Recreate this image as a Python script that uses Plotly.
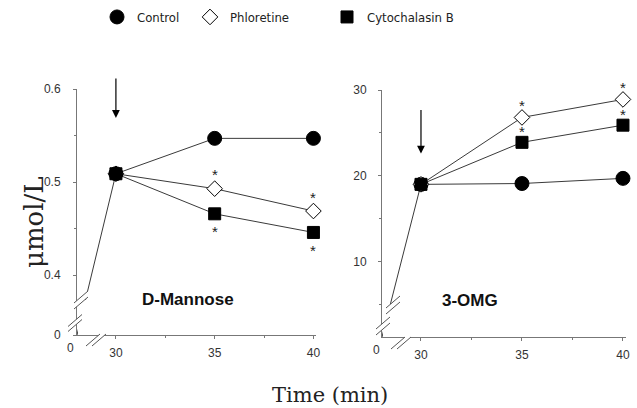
import plotly.graph_objects as go

# ---------------- data ----------------
time_min = [0, 30, 35, 40]
series_names = ["Control", "Phloretine", "Cytochalasin B"]

mannose_control = [0, 0.509, 0.547, 0.547]
mannose_phloretine = [0, 0.509, 0.493, 0.469]
mannose_cytochalasin = [0, 0.509, 0.466, 0.446]
mannose_phloretine_sig = ["", "", "*", "*"]
mannose_cytochalasin_sig = ["", "", "*", "*"]

omg_control = [0, 19.0, 19.1, 19.7]
omg_phloretine = [0, 19.0, 26.8, 28.9]
omg_cytochalasin = [0, 19.0, 23.9, 25.9]
omg_phloretine_sig = ["", "", "*", "*"]
omg_cytochalasin_sig = ["", "", "*", "*"]

mannose_yticks = [0, 0.4, 0.5, 0.6]
mannose_ytick_labels = ["0", "0.4", "0.5", "0.6"]
omg_yticks = [10, 20, 30]
x_ticks = [30, 35, 40]

# ---------------- layout constants ----------------
W, H = 637, 408
def fx(p):
    return p / W
def fy(p):
    return 1 - p / H

# broken-axis stand-in positions for the value 0 / time 0
L_X0, L_Y0 = 28.03, 0.3359
R_X0, R_Y0 = 28.07, 1.21

def xmap(ts, x0):
    return [t if t >= 30 else x0 for t in ts]

def ymap(vs, y0, low):
    return [v if v >= low else y0 for v in vs]

LINE = "#3a3a3a"
styles = {
    "Control": dict(symbol="circle", size=14, color="black", line=dict(color="black", width=1)),
    "Phloretine": dict(symbol="diamond", size=12, color="white", line=dict(color="black", width=1)),
    "Cytochalasin B": dict(symbol="square", size=12, color="black", line=dict(color="black", width=1)),
}
star_font = dict(family="Liberation Sans, Arial, sans-serif", size=15, color="#222")

fig = go.Figure()
annotations = []

def add_stars(xa, ya, xs, vals, sig, shift):
    for t, v, s in zip(xs, vals, sig):
        if s:
            annotations.append(dict(text=s, x=t, y=v, xref=xa, yref=ya, yshift=shift,
                                    showarrow=False, xanchor="center", yanchor="middle",
                                    font=star_font))

def add_panel(xa, ya, ctrl, phl, cyt, phl_sig, cyt_sig, x0, y0, low, order,
              phl_shift, cyt_shift):
    xs = xmap(time_min, x0)
    # initial segment (time 0 -> 30)
    fig.add_trace(go.Scatter(x=xs[:2], y=ymap(ctrl[:2], y0, low), mode="lines",
                             line=dict(color=LINE, width=1), xaxis=xa, yaxis=ya,
                             showlegend=False, hoverinfo="skip", cliponaxis=False))
    data = {"Control": ctrl, "Phloretine": phl, "Cytochalasin B": cyt}
    for name in order:
        vals = data[name]
        fig.add_trace(go.Scatter(
            x=xs[1:], y=vals[1:], mode="lines+markers",
            line=dict(color=LINE, width=1), marker=styles[name],
            xaxis=xa, yaxis=ya, showlegend=False, cliponaxis=False, name=name))
    add_stars(xa, ya, xs, phl, phl_sig, phl_shift)
    add_stars(xa, ya, xs, cyt, cyt_sig, cyt_shift)

add_panel("x", "y", mannose_control, mannose_phloretine, mannose_cytochalasin,
          mannose_phloretine_sig, mannose_cytochalasin_sig, L_X0, L_Y0, 0.3,
          ["Cytochalasin B", "Phloretine", "Control"], 14, -18)
add_panel("x2", "y2", omg_control, omg_phloretine, omg_cytochalasin,
          omg_phloretine_sig, omg_cytochalasin_sig, R_X0, R_Y0, 1,
          ["Control", "Phloretine", "Cytochalasin B"], 12, 11)

# legend-only traces, each in its own legend box
legend_keys = ["legend", "legend2", "legend3"]
for name, lk in zip(series_names, legend_keys):
    fig.add_trace(go.Scatter(x=[None], y=[None], mode="markers", marker=styles[name],
                             name=name, legend=lk, showlegend=True))

tickfont = dict(family="Liberation Sans, Arial, sans-serif", size=12, color="#333")
axis_common = dict(showline=True, linecolor="#777", linewidth=1, showgrid=False, zeroline=False,
                   ticks="outside", ticklen=3, tickcolor="#777", tickfont=tickfont,
                   fixedrange=True, automargin=False)

leg_font = dict(family="Liberation Sans Narrow, DejaVu Sans Condensed, Arial Narrow, Liberation Sans, sans-serif",
                size=13, color="#222")
def legend_at(px, py):
    return dict(x=fx(px), y=fy(py), xanchor="left", yanchor="middle", orientation="h",
                font=leg_font, bgcolor="rgba(0,0,0,0)", borderwidth=0, itemclick=False)

# break marks
shapes = []
def wrect(x1, y1, x2, y2):
    shapes.append(dict(type="rect", xref="paper", yref="paper", x0=fx(x1), x1=fx(x2),
                       y0=fy(y2), y1=fy(y1), fillcolor="white", line=dict(width=0), layer="above"))
def brk(cx, cy, ox, oy, hx=7, hy=-6):
    p1 = (cx - ox / 2, cy - oy / 2)
    p2 = (cx + ox / 2, cy + oy / 2)
    pts = [(p1[0] - hx, p1[1] - hy), (p1[0] + hx, p1[1] + hy), (p2[0] + hx, p2[1] + hy), (p2[0] - hx, p2[1] - hy)]
    path = "M " + " L ".join(f"{fx(a):.5f},{fy(b):.5f}" for a, b in pts) + " Z"
    shapes.append(dict(type="path", xref="paper", yref="paper", path=path,
                       fillcolor="white", line=dict(width=0), layer="above"))
    for p in (p1, p2):
        shapes.append(dict(type="line", xref="paper", yref="paper",
                           x0=fx(p[0] - hx), y0=fy(p[1] - hy), x1=fx(p[0] + hx), y1=fy(p[1] + hy),
                           line=dict(color="#555", width=1), layer="above"))

# left panel
wrect(78, 300, 93, 334)
brk(81, 300, 0, 6)
brk(75, 323, 0, 5)
brk(96, 340, 6, 0)
# right panel
wrect(383, 304, 397, 336)
brk(393, 305, 0, 6)
brk(383, 326, 0, 6)
brk(401, 343, 6, 0)

def text_ann(text, px, py, font, **kw):
    d = dict(text=text, x=fx(px), y=fy(py), xref="paper", yref="paper", showarrow=False,
             xanchor="center", yanchor="middle", font=font)
    d.update(kw)
    return d

annotations += [
    text_ann("<b>D-Mannose</b>", 188, 299, dict(family="Liberation Sans, Arial, sans-serif", size=17, color="#111")),
    text_ann("<b>3-OMG</b>", 470, 300, dict(family="Liberation Sans, Arial, sans-serif", size=17, color="#111")),
    text_ann("μmol/L", 34, 222, dict(family="DejaVu Serif, serif", size=26, color="#222"), textangle=-90),
    text_ann("Time (min)", 330, 395, dict(family="DejaVu Serif, serif", size=21, color="#222")),
    # "0" labels at the broken time origin of each panel
    dict(text="0", x=L_X0, y=0, xref="x", yref="y domain", xshift=-7, yshift=-13, showarrow=False,
         xanchor="center", yanchor="middle", font=tickfont),
    dict(text="0", x=R_X0, y=0, xref="x2", yref="y2 domain", xshift=-6, yshift=-13, showarrow=False,
         xanchor="center", yanchor="middle", font=tickfont),
    dict(x=30, y=0.569, xref="x", yref="y", ax=0, ay=-41, showarrow=True, arrowhead=2,
         arrowsize=1.3, arrowwidth=1.2, arrowcolor="black", text=""),
    dict(x=30, y=22.6, xref="x2", yref="y2", ax=0, ay=-45, showarrow=True, arrowhead=2,
         arrowsize=1.3, arrowwidth=1.2, arrowcolor="black", text=""),
]

fig.update_layout(
    width=W, height=H, margin=dict(l=0, r=0, t=0, b=0, autoexpand=False),
    paper_bgcolor="white", plot_bgcolor="white",
    xaxis=dict(domain=[fx(77), fx(316)], range=[L_X0, 40.13], anchor="y",
               tickvals=x_ticks, ticktext=[str(t) for t in x_ticks],
               ticklabelstandoff=4,
               minor=dict(dtick=2.5, tick0=30, ticks="outside", ticklen=2, tickcolor="#777"),
               **axis_common),
    yaxis=dict(domain=[fy(335), fy(89)], range=[L_Y0, 0.6], anchor="x",
               tickvals=ymap(mannose_yticks, L_Y0, 0.3), ticktext=mannose_ytick_labels,
               ticklabelstandoff=10,
               minor=dict(dtick=0.05, tick0=0.4, ticks="outside", ticklen=2, tickcolor="#777"),
               **axis_common),
    xaxis2=dict(domain=[fx(382), fx(626)], range=[R_X0, 40.15], anchor="y2",
                tickvals=x_ticks, ticktext=[str(t) for t in x_ticks],
                ticklabelstandoff=4,
                minor=dict(dtick=2.5, tick0=30, ticks="outside", ticklen=2, tickcolor="#777"),
                **axis_common),
    yaxis2=dict(domain=[fy(337), fy(90)], range=[R_Y0, 30], anchor="x2",
                tickvals=omg_yticks, ticktext=[str(t) for t in omg_yticks],
                ticklabelstandoff=9,
                minor=dict(dtick=5, tick0=5, ticks="outside", ticklen=2, tickcolor="#777"),
                **axis_common),
    legend=legend_at(97, 17),
    legend2=legend_at(190, 17),
    legend3=legend_at(327, 17),
    shapes=shapes,
    annotations=annotations,
    showlegend=True,
)

fig.write_html("out.html", config={"displayModeBar": False},
               post_script="document.body.style.margin='0';document.body.style.overflow='hidden';")
